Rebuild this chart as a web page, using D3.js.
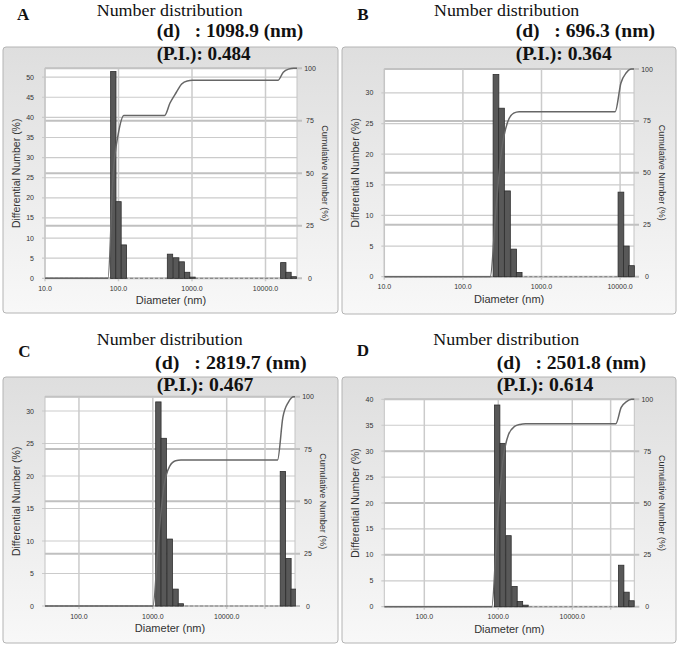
<!DOCTYPE html>
<html><head><meta charset="utf-8">
<script src="https://cdn.jsdelivr.net/npm/d3@7"></script>
<style>body{margin:0;background:#fff}</style>
</head><body>
<svg id="c" width="678" height="646"></svg>
<script>
// ---------- data ----------
const panelLabels = ["A", "B", "C", "D"];
const titleText = "Number distribution";
const dValues = ["1098.9", "696.3", "2819.7", "2501.8"];
const piValues = ["0.484", "0.364", "0.467", "0.614"];

const sizesA = [85, 100, 118.5, 502, 610, 724, 861, 1016, 17460, 20560, 24270];
const valuesA = [51.4, 19.05, 8.3, 6.0, 5.1, 4.1, 1.5, 0.3, 3.9, 1.5, 0.4];
const sizesB = [263.6, 309.7, 369, 442.6, 520, 10250, 12000, 13960];
const valuesB = [33.0, 27.5, 14.0, 4.5, 0.7, 13.8, 5.0, 1.8];
const sizesC = [1189, 1406, 1694, 2032, 2399, 57680, 68550, 80540];
const valuesC = [31.4, 25.8, 10.3, 2.6, 0.35, 20.7, 7.3, 2.6];
const sizesD = [966, 1146, 1374, 1656, 1963, 2333, 45810, 54080, 63100];
const valuesD = [38.9, 31.5, 13.7, 3.9, 1.0, 0.3, 8.0, 2.8, 1.15];

const xDomains = [[10, 26830], [10, 15030], [34.7, 84100], [28.8, 68900]];
const xTickValues = [[10, 100, 1000, 10000], [10, 100, 1000, 10000], [100, 1000, 10000], [100, 1000, 10000]];
const extraXGrid = [[], [], [33000], [33000]];
const yLeftMax = [52.2, 33.9, 32.2, 40];
const yLeftTicks = [[0,5,10,15,20,25,30,35,40,45,50],[0,5,10,15,20,25,30],[0,5,10,15,20,25,30],[0,5,10,15,20,25,30,35,40]];
const yRightTicks = [0, 25, 50, 75, 100];
const binWidthDecades = 0.073;

const sizes = [sizesA, sizesB, sizesC, sizesD];
const values = [valuesA, valuesB, valuesC, valuesD];

// ---------- layout ----------
const layout = [
  {frame:[3,47,335,266], plot:{l:45,r:297,t:68.3,b:278.3},
   letter:[17,20], nd:[96.7,16,146], d:[156.7,37,146.6], pi:[156.7,59.5,94]},
  {frame:[342,47,334,267], plot:{l:384.3,r:634,t:69,b:276.7},
   letter:[357.3,20], nd:[434,15.5,145.3], d:[515.7,37,139.3], pi:[515.7,59.5,96]},
  {frame:[3,377,335,266], plot:{l:45,r:295,t:396.7,b:606},
   letter:[18.3,356.7], nd:[96.7,345,146], d:[155,368.5,151.7], pi:[156.7,391,96.7]},
  {frame:[342,377,334,266], plot:{l:384.3,r:634.3,t:399.3,b:606.7},
   letter:[356.7,356], nd:[433.3,345,146], d:[496.7,368.5,149.3], pi:[496.7,391,96.7]}
];

const svg = d3.select("#c");
const defs = svg.append("defs");
const grad = defs.append("linearGradient").attr("id","fg").attr("x1",0).attr("y1",0).attr("x2",0).attr("y2",1);
grad.append("stop").attr("offset","0%").attr("stop-color","#dedede");
grad.append("stop").attr("offset","100%").attr("stop-color","#f8f8f8");

const sans = "'Liberation Sans', Arial, sans-serif";
const serif = "'Liberation Serif', 'Times New Roman', serif";
const gridCol = "#cbcbcb";

layout.forEach((L, i) => {
  const p = L.plot;
  const g = svg.append("g");
  // frame
  g.append("rect").attr("x", L.frame[0]).attr("y", L.frame[1]).attr("width", L.frame[2]).attr("height", L.frame[3])
    .attr("rx", 3).attr("fill", "url(#fg)").attr("stroke", "#b4b4b4").attr("stroke-width", 1);
  g.append("rect").attr("x", p.l).attr("y", p.t).attr("width", p.r - p.l).attr("height", p.b - p.t)
    .attr("fill", "#fff");

  const x = d3.scaleLog().domain(xDomains[i]).range([p.l, p.r]);
  const yL = d3.scaleLinear().domain([0, yLeftMax[i]]).range([p.b, p.t]);
  const yR = d3.scaleLinear().domain([0, 100]).range([p.b, p.t]);

  // horizontal grid (left ticks)
  g.selectAll(null).data(yLeftTicks[i]).join("line")
    .attr("x1", p.l - 3).attr("x2", p.r).attr("y1", d => yL(d)).attr("y2", d => yL(d))
    .attr("stroke", gridCol).attr("stroke-width", 1.2);
  // horizontal grid (right ticks)
  g.selectAll(null).data(yRightTicks).join("line")
    .attr("x1", p.l).attr("x2", p.r + 5).attr("y1", d => yR(d)).attr("y2", d => yR(d))
    .attr("stroke", "#c0c0c0").attr("stroke-width", 2);
  // vertical grid
  g.selectAll(null).data(xTickValues[i].concat(extraXGrid[i])).join("line")
    .attr("x1", d => x(d)).attr("x2", d => x(d)).attr("y1", p.t).attr("y2", p.b + 3)
    .attr("stroke", gridCol).attr("stroke-width", 1.5);
  // plot border
  g.append("rect").attr("x", p.l).attr("y", p.t).attr("width", p.r - p.l).attr("height", p.b - p.t)
    .attr("fill", "none").attr("stroke", "#c4c4c4").attr("stroke-width", 1);

  const clipId = "clip" + i;
  defs.append("clipPath").attr("id", clipId).append("rect")
    .attr("x", p.l).attr("y", p.t - 2).attr("width", p.r - p.l + 1).attr("height", p.b - p.t + 3);
  const pg = g.append("g").attr("clip-path", `url(#${clipId})`);

  // dashed baseline
  pg.append("line").attr("x1", p.l).attr("x2", p.r).attr("y1", p.b).attr("y2", p.b)
    .attr("stroke", "#8a8a8a").attr("stroke-width", 1.2).attr("stroke-dasharray", "3,2");

  // bars
  const half = Math.pow(10, binWidthDecades / 2);
  const data = sizes[i].map((s, k) => ({s, v: values[i][k]}));
  pg.selectAll(null).data(data).join("rect")
    .attr("x", d => x(d.s / half))
    .attr("width", d => x(d.s * half) - x(d.s / half))
    .attr("y", d => yL(d.v))
    .attr("height", d => p.b - yL(d.v))
    .attr("fill", "#585858").attr("stroke", "#2e2e2e").attr("stroke-width", 0.8);

  // cumulative curve derived from the bar values
  const total = d3.sum(values[i]);
  const cum = Array.from(d3.cumsum(values[i]), v => v / total * 100);
  const step = Math.pow(10, binWidthDecades);
  const pts = [[xDomains[i][0], 0]];
  sizes[i].forEach((s, k) => {
    const prev = k ? cum[k - 1] : 0;
    if (k === 0 || Math.log10(s / sizes[i][k - 1]) > 1.5 * binWidthDecades) pts.push([s / step, prev]);
    pts.push([s, cum[k]]);
  });
  pts.push([xDomains[i][1], 100]);
  const line = d3.line().x(d => x(d[0])).y(d => yR(d[1])).curve(d3.curveMonotoneX);
  pg.append("path").attr("d", line(pts)).attr("fill", "none")
    .attr("stroke", "#666").attr("stroke-width", 1.5);

  // left tick labels
  g.selectAll(null).data(yLeftTicks[i]).join("text")
    .attr("x", p.l - 11).attr("y", d => yL(d) + 2.5).attr("text-anchor", "end")
    .attr("font-family", sans).attr("font-size", 7).attr("fill", "#333").text(d => d);
  // right tick labels
  g.selectAll(null).data(yRightTicks).join("text")
    .attr("x", p.r + 13).attr("y", d => yR(d) + 2.5).attr("text-anchor", "middle")
    .attr("font-family", sans).attr("font-size", 7).attr("fill", "#333").text(d => d);
  // x tick labels
  g.selectAll(null).data(xTickValues[i]).join("text")
    .attr("x", d => x(d)).attr("y", p.b + 12.5).attr("text-anchor", "middle")
    .attr("font-family", sans).attr("font-size", 7).attr("fill", "#333").text(d => d3.format(".1f")(d));

  // axis titles
  g.append("text").attr("x", (p.l + p.r) / 2).attr("y", p.b + 26).attr("text-anchor", "middle")
    .attr("font-family", sans).attr("font-size", 11).attr("fill", "#333").text("Diameter (nm)");
  g.append("text").attr("transform", `translate(${p.l - 25},${(p.t + p.b) / 2}) rotate(-90)`)
    .attr("text-anchor", "middle").attr("font-family", sans).attr("font-size", 10.5).attr("fill", "#333")
    .text("Differential Number (%)");
  g.append("text").attr("transform", `translate(${p.r + 25},${(p.t + p.b) / 2}) rotate(90)`)
    .attr("text-anchor", "middle").attr("font-family", sans).attr("font-size", 9).attr("fill", "#333")
    .text("Cumulative Number (%)");

  // titles
  svg.append("text").attr("x", L.letter[0]).attr("y", L.letter[1])
    .attr("font-family", serif).attr("font-weight", "bold").attr("font-size", 17).attr("fill", "#111")
    .text(panelLabels[i]);
  svg.append("text").attr("x", L.nd[0]).attr("y", L.nd[1]).attr("textLength", L.nd[2]).attr("lengthAdjust", "spacingAndGlyphs")
    .attr("font-family", serif).attr("font-size", 17.5).attr("fill", "#111").text(titleText);
  svg.append("text").attr("x", L.d[0]).attr("y", L.d[1]).attr("textLength", L.d[2]).attr("lengthAdjust", "spacingAndGlyphs")
    .style("white-space", "pre")
    .attr("font-family", serif).attr("font-weight", "bold").attr("font-size", 18.5).attr("fill", "#111")
    .text(`(d)   : ${dValues[i]} (nm)`);
  svg.append("text").attr("x", L.pi[0]).attr("y", L.pi[1]).attr("textLength", L.pi[2]).attr("lengthAdjust", "spacingAndGlyphs")
    .attr("font-family", serif).attr("font-weight", "bold").attr("font-size", 18.5).attr("fill", "#111")
    .text(`(P.I.): ${piValues[i]}`);
});
</script>
</body></html>
